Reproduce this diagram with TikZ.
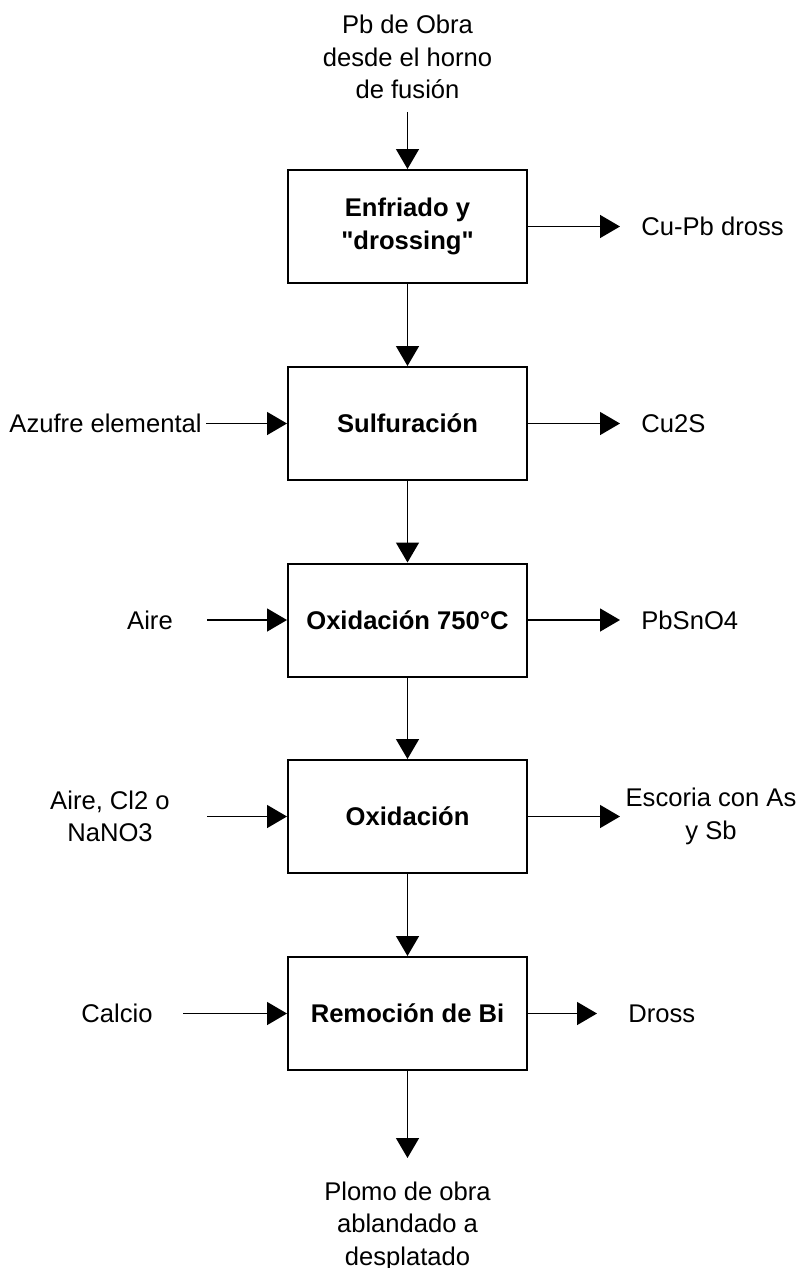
\documentclass[tikz,border=0pt]{standalone}
\usepackage{fontspec}
\setmainfont{Liberation Sans}
\usetikzlibrary{arrows.meta}
\newcommand{\flowfont}{\fontsize{12.8}{16.25}\selectfont}
\tikzset{
  proc/.style={draw, line width=1pt, minimum width=119.5pt, minimum height=56.5pt,
    align=center, inner sep=0pt, font=\flowfont\bfseries},
  lbl/.style={align=center, inner sep=0pt, font=\flowfont},
  flow/.style={-{Triangle[length=10pt,width=11.5pt]}, line width=0.75pt}
}
\begin{document}
\begin{tikzpicture}[x=0.5pt,y=-0.5pt]
  \useasboundingbox (0,0) rectangle (800,1268);
  % process boxes
  \node[proc] (b1) at (407.5,226.5) {Enfriado y\\\textquotedbl drossing\textquotedbl};
  \node[proc] (b2) at (407.5,423.5) {Sulfuración};
  \node[proc] (b3) at (407.5,620) {Oxidación 750°C};
  \node[proc] (b4) at (407.5,816.5) {Oxidación};
  \node[proc] (b5) at (407.5,1013.5) {Remoción de Bi};

  % feed and product
  \node[lbl] (feed) at (407.5,57) {Pb de Obra\\desde el horno\\de fusión};
  \node[lbl] (prod) at (407.5,1226) {Plomo de obra\\ablandado a\\desplatado};
  \coordinate (feedend) at (407.5,112);
  \coordinate (prodtip) at (407.5,1158);

  % inputs on the left
  \node[lbl, anchor=east] (in2) at (202,423.5) {Azufre elemental};
  \node[lbl] (in3) at (150,620) {Aire};
  \node[lbl] (in4) at (110,816.5) {Aire, Cl2 o\\NaNO3};
  \node[lbl] (in5) at (117,1013.5) {Calcio};
  \coordinate (in3end) at (207,620);
  \coordinate (in4end) at (207,816.5);
  \coordinate (in5end) at (183,1013.5);

  % outputs on the right
  \node[lbl, anchor=west] (out1) at (641,226.5) {Cu-Pb dross};
  \node[lbl, anchor=west] (out2) at (641,423.5) {Cu2S};
  \node[lbl, anchor=west] (out3) at (641,620) {PbSnO4};
  \node[lbl] (out4) at (711,816.5) {Escoria con As\\y Sb};
  \node[lbl, anchor=west] (out5) at (628,1013.5) {Dross};
  \coordinate (out1tip) at (620,226.5);
  \coordinate (out2tip) at (620,423.5);
  \coordinate (out3tip) at (620,620);
  \coordinate (out4tip) at (620,816.5);
  \coordinate (out5tip) at (597,1013.5);

  % main line
  \draw[flow] (feedend) -- (b1);
  \draw[flow] (b1) -- (b2);
  \draw[flow] (b2) -- (b3);
  \draw[flow] (b3) -- (b4);
  \draw[flow] (b4) -- (b5);
  \draw[flow] (b5) -- (prodtip);

  % side streams
  \draw[flow] ([xshift=2pt]in2.east) -- (b2);
  \draw[flow] (in3end) -- (b3);
  \draw[flow] (in4end) -- (b4);
  \draw[flow] (in5end) -- (b5);
  \draw[flow] (b1) -- (out1tip);
  \draw[flow] (b2) -- (out2tip);
  \draw[flow] (b3) -- (out3tip);
  \draw[flow] (b4) -- (out4tip);
  \draw[flow] (b5) -- (out5tip);
\end{tikzpicture}
\end{document}
